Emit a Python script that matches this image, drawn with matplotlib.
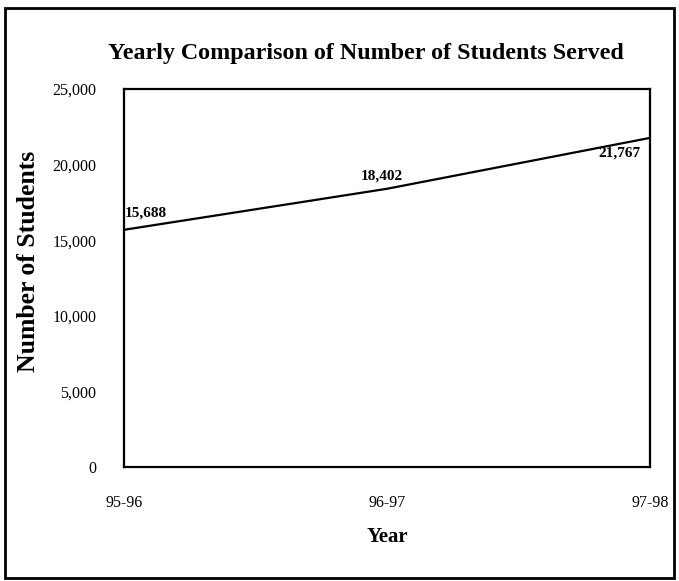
import matplotlib
matplotlib.use("Agg")
import matplotlib.pyplot as plt
from matplotlib.patches import Rectangle

years = ["95-96", "96-97", "97-98"]
students = [15688, 18402, 21767]
y_ticks = [0, 5000, 10000, 15000, 20000, 25000]

plt.rcParams["font.family"] = ["Liberation Serif", "DejaVu Serif"]

fig = plt.figure(figsize=(6.79, 5.81), dpi=100)
ax = fig.add_axes([0.1826, 0.1962, 0.7747, 0.6506])

x = list(range(len(years)))
ax.plot(x, students, color="black", linewidth=1.6)

# value labels
offsets = [(16, 12), (-4, 9), (-22, -11)]
for xi, yi, off in zip(x, students, offsets):
    ax.annotate(f"{yi:,}", (xi, yi), xytext=off, textcoords="offset points",
                ha="center", va="center", fontsize=11, fontweight="bold")

ax.set_xlim(0, 2)
ax.set_ylim(0, 25000)
ax.set_xticks(x)
ax.set_xticklabels(years, fontsize=11.5)
ax.set_yticks(y_ticks)
ax.set_yticklabels([f"{v:,}" for v in y_ticks], fontsize=11.5)
ax.tick_params(length=0, pad=20)
ax.tick_params(axis="x", pad=20)
for s in ax.spines.values():
    s.set_linewidth(1.6)

ax.set_xlabel("Year", fontsize=15, fontweight="bold", labelpad=12)
fig.text(0.042, 0.55, "Number of Students", rotation=90, ha="center", va="center",
         fontsize=18.5, fontweight="bold")
fig.text(0.539, 0.908, "Yearly Comparison of Number of Students Served",
         ha="center", va="center", fontsize=17.3, fontweight="bold")

fig.patches.append(Rectangle((0.008, 0.006), 0.984, 0.981, transform=fig.transFigure,
                             fill=False, edgecolor="black", linewidth=2))

fig.savefig("out.png", dpi=100)
